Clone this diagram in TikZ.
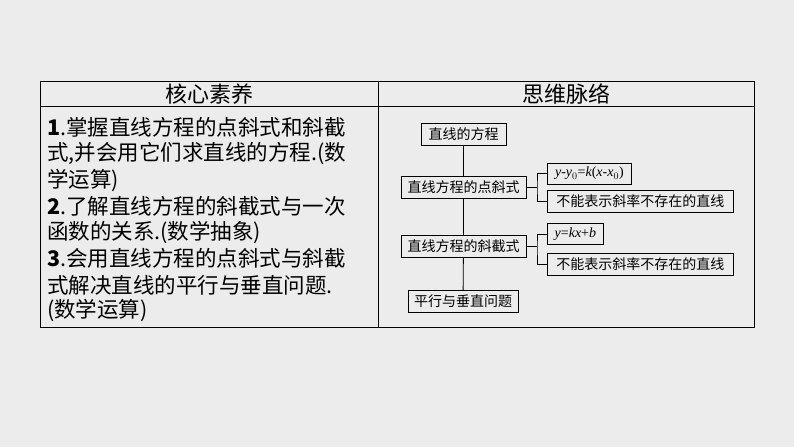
\documentclass[tikz,border=0pt]{standalone}
\usepackage{fontspec}
\setmainfont{Liberation Serif}
\newfontfamily\cjk{Noto Sans CJK SC}
\begin{document}
\begin{tikzpicture}[x=1pt,y=-1pt,
  box/.style={draw,line width=0.8pt,inner sep=2pt,minimum height=22pt,font=\cjk\fontsize{14}{14}\selectfont},
  ln/.style={anchor=west,inner sep=0pt,font=\cjk\fontsize{21.5}{21.5}\selectfont},
  hd/.style={inner sep=0pt,font=\cjk\fontsize{22}{22}\selectfont},
  conn/.style={line width=0.8pt}]
\fill[gray!15] (0,0) rectangle (794,447);
\useasboundingbox (0,0) rectangle (794,447);
\draw[line width=0.8pt] (40,81) rectangle (754,327);
\draw[line width=0.8pt] (40,106) -- (754,106);
\draw[line width=0.8pt] (378,81) -- (378,327);
\node[hd] (h1) at (209,94) {核心素养};
\node[hd] (h2) at (566,94) {思维脉络};
\node[ln] (l1) at (47,127) {\textbf{1}.掌握直线方程的点斜式和斜截};
\node[ln] (l2) at (47,153) {式,并会用它们求直线的方程.(数};
\node[ln] (l3) at (47,180) {学运算)};
\node[ln] (l4) at (47,206) {\textbf{2}.了解直线方程的斜截式与一次};
\node[ln] (l5) at (47,232) {函数的关系.(数学抽象)};
\node[ln] (l6) at (47,258) {\textbf{3}.会用直线方程的点斜式与斜截};
\node[ln] (l7) at (47,285) {式解决直线的平行与垂直问题.};
\node[ln] (l8) at (47,310) {(数学运算)};
\node[box,minimum width=85pt] (a) at (463.5,134) {直线的方程};
\node[box,minimum width=125pt] (b) at (463.5,187.5) {直线方程的点斜式};
\node[box,minimum width=125pt] (c) at (463.5,246.5) {直线方程的斜截式};
\node[box,minimum width=110pt] (d) at (463,301.5) {平行与垂直问题};
\node[box,anchor=west,minimum width=84pt,minimum height=21pt,font=\fontsize{14}{14}\selectfont] (b1) at (547,173.5) {$\mathit{y}$-$\mathit{y}_0$=$\mathit{k}$($\mathit{x}$-$\mathit{x}_0$)};
\node[box,anchor=west,minimum width=186pt] (b2) at (547,201.5) {不能表示斜率不存在的直线};
\node[box,anchor=west,minimum width=56pt,minimum height=21pt,font=\fontsize{14}{14}\selectfont] (c1) at (547,234) {$\mathit{y}$=$\mathit{kx}$+$\mathit{b}$};
\node[box,anchor=west,minimum width=186pt] (c2) at (547,264.5) {不能表示斜率不存在的直线};
\draw[conn] (a) -- (b) -- (c) -- (d);
\coordinate (bj) at (537,187.5);
\coordinate (cj) at (537,246.5);
\draw[conn] (b.east) -- (bj);
\draw[conn] (b1.west) -| (bj) |- (b2.west);
\draw[conn] (c.east) -- (cj);
\draw[conn] (c1.west) -| (cj) |- (c2.west);
\end{tikzpicture}
\end{document}
